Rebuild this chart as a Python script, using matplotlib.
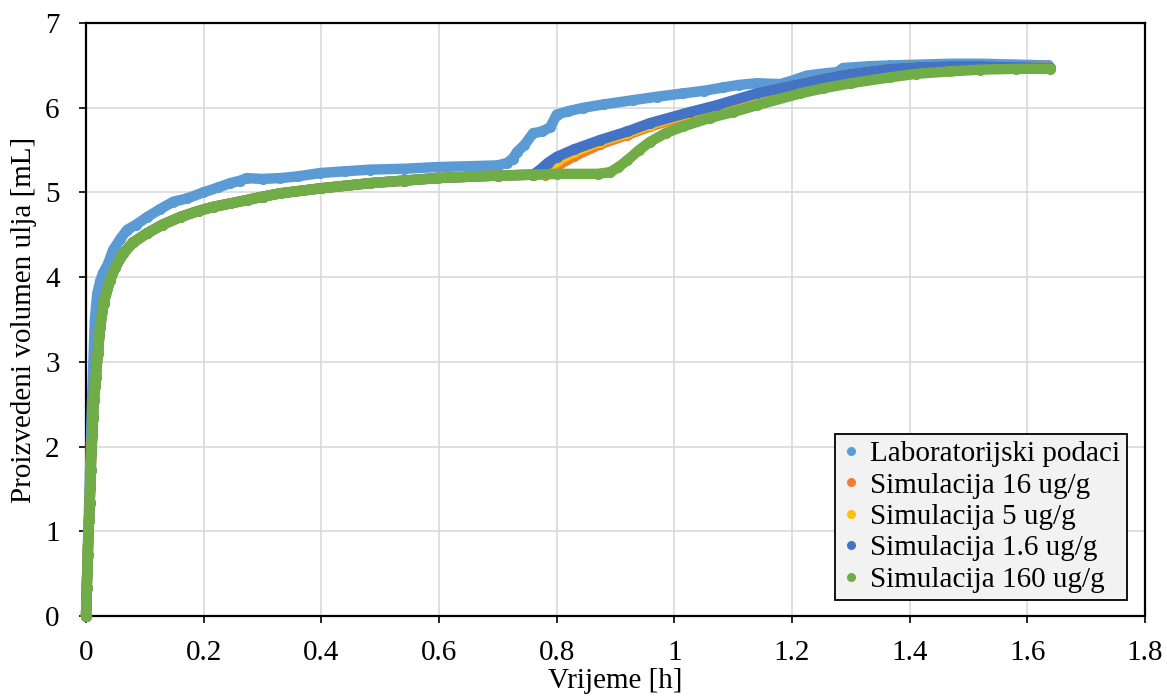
import matplotlib

matplotlib.use("Agg")

import matplotlib.pyplot as plt
from matplotlib.lines import Line2D
from matplotlib.ticker import FuncFormatter, MultipleLocator


# Laboratory measurements (time in h, volume in mL)
lab_time = [0, 0.002, 0.004, 0.006, 0.008, 0.010, 0.012, 0.015, 0.019, 0.024, 0.029, 0.037,
            0.046, 0.058, 0.070, 0.085, 0.104, 0.125, 0.148, 0.172, 0.199, 0.225, 0.245, 0.262,
            0.273, 0.30, 0.33, 0.36, 0.398, 0.44, 0.483, 0.54, 0.597, 0.65, 0.700, 0.716, 0.725,
            0.733, 0.745, 0.760, 0.775, 0.789, 0.80, 0.82, 0.845, 0.88, 0.93, 0.97, 1.015, 1.05,
            1.083, 1.11, 1.14, 1.18, 1.20, 1.225, 1.26, 1.277, 1.287, 1.33, 1.367, 1.42, 1.469,
            1.52, 1.58, 1.635]
lab_volume = [0, 0.5, 1.0, 1.5, 2.0, 2.5, 2.9, 3.5, 3.8, 3.95, 4.05, 4.15,
              4.32, 4.45, 4.56, 4.62, 4.71, 4.80, 4.89, 4.93, 5.00, 5.06, 5.11, 5.14,
              5.17, 5.16, 5.17, 5.19, 5.23, 5.25, 5.27, 5.28, 5.30, 5.31, 5.32, 5.35, 5.40,
              5.48, 5.56, 5.70, 5.72, 5.77, 5.92, 5.96, 6.00, 6.04, 6.09, 6.13, 6.17, 6.20,
              6.24, 6.27, 6.29, 6.28, 6.32, 6.38, 6.41, 6.42, 6.47, 6.49, 6.50, 6.51, 6.52,
              6.52, 6.51, 6.50]

# Simulations share the same early part (before breakthrough)
sim_early_time = [0, 0.0005, 0.0012, 0.0022, 0.003, 0.0039, 0.0051, 0.0063, 0.0071, 0.008,
                  0.009, 0.0107, 0.0119, 0.013, 0.0153, 0.0165, 0.020, 0.024, 0.030, 0.041,
                  0.050, 0.063, 0.080, 0.104, 0.13, 0.16, 0.19, 0.216, 0.245, 0.273, 0.30,
                  0.33, 0.40, 0.483, 0.54, 0.597, 0.70, 0.76]
sim_early_volume = [0, 0.13, 0.33, 0.52, 0.72, 0.92, 1.13, 1.33, 1.53, 1.72,
                    1.92, 2.14, 2.34, 2.55, 2.71, 2.82, 3.10, 3.41, 3.70, 3.97,
                    4.12, 4.28, 4.41, 4.52, 4.62, 4.71, 4.78, 4.83, 4.87, 4.91, 4.95,
                    4.99, 5.05, 5.11, 5.14, 5.17, 5.20, 5.21]

sim16_time = [0.78, 0.79, 0.80, 0.83, 0.874, 0.92, 0.959, 1.027, 1.072, 1.14, 1.214, 1.253,
              1.30, 1.367, 1.42, 1.469, 1.52, 1.58, 1.639]
sim16_volume = [5.21, 5.25, 5.31, 5.43, 5.57, 5.68, 5.78, 5.92, 6.01, 6.15, 6.27, 6.33,
                6.39, 6.45, 6.47, 6.48, 6.48, 6.48, 6.47]

sim5_time = [0.775, 0.785, 0.80, 0.83, 0.874, 0.92, 0.959, 1.027, 1.072, 1.14, 1.214, 1.253,
             1.30, 1.367, 1.42, 1.469, 1.52, 1.58, 1.639]
sim5_volume = [5.22, 5.28, 5.37, 5.48, 5.60, 5.70, 5.80, 5.94, 6.02, 6.16, 6.28, 6.34,
               6.40, 6.46, 6.48, 6.49, 6.49, 6.48, 6.47]

sim1_6_time = [0.772, 0.785, 0.80, 0.83, 0.874, 0.92, 0.959, 1.027, 1.072, 1.14, 1.214, 1.253,
               1.30, 1.367, 1.42, 1.469, 1.52, 1.58, 1.639]
sim1_6_volume = [5.27, 5.35, 5.42, 5.51, 5.62, 5.72, 5.82, 5.95, 6.03, 6.17, 6.28, 6.34,
                 6.40, 6.46, 6.48, 6.49, 6.49, 6.48, 6.47]

sim160_time = [0.80, 0.87, 0.891, 0.905, 0.92, 0.94, 0.959, 0.985, 1.015, 1.06, 1.10, 1.14,
               1.214, 1.253, 1.30, 1.367, 1.41, 1.469, 1.52, 1.58, 1.639]
sim160_volume = [5.22, 5.22, 5.24, 5.30, 5.38, 5.50, 5.60, 5.70, 5.78, 5.88, 5.95, 6.03,
                 6.17, 6.23, 6.29, 6.36, 6.40, 6.43, 6.45, 6.46, 6.46]

labels = ["Laboratorijski podaci", "Simulacija 16 ug/g", "Simulacija 5 ug/g",
          "Simulacija 1.6 ug/g", "Simulacija 160 ug/g"]
colors = ["#5B9BD5", "#ED7D31", "#FFC000", "#4472C4", "#70AD47"]

plt.rcParams["font.family"] = ["Liberation Serif", "DejaVu Serif"]
plt.rcParams["font.size"] = 21

fig = plt.figure(figsize=(11.67, 6.99), dpi=100)
ax = fig.add_axes([0.0737, 0.1187, 0.9075, 0.8483])

series = [
    (lab_time, lab_volume),
    (sim_early_time + sim16_time, sim_early_volume + sim16_volume),
    (sim_early_time + sim5_time, sim_early_volume + sim5_volume),
    (sim_early_time + sim1_6_time, sim_early_volume + sim1_6_volume),
    (sim_early_time + sim160_time, sim_early_volume + sim160_volume),
]

for i, (t, v) in enumerate(series):
    ax.plot(t, v, color=colors[i], linewidth=7.5, marker="o", markersize=8,
            markeredgewidth=0, solid_capstyle="round", solid_joinstyle="round",
            zorder=3 + i, clip_on=False)

ax.set_xlim(0, 1.8)
ax.set_ylim(0, 7)
ax.xaxis.set_major_locator(MultipleLocator(0.2))
ax.yaxis.set_major_locator(MultipleLocator(1))
ax.xaxis.set_major_formatter(FuncFormatter(lambda val, pos: f"{val:g}"))
ax.yaxis.set_major_formatter(FuncFormatter(lambda val, pos: f"{val:g}"))

ax.grid(True, color="#d9d9d9", linewidth=1.2)
ax.set_axisbelow(True)
for spine in ax.spines.values():
    spine.set_color("black")
    spine.set_linewidth(1.6)

ax.tick_params(axis="both", direction="out", length=5, width=1.2, color="black")
ax.tick_params(axis="x", pad=12)
ax.tick_params(axis="y", pad=14)

ax.set_xlabel("Vrijeme [h]", labelpad=2)
ax.set_ylabel("Proizvedeni volumen ulja [mL]", labelpad=6)

handles = [Line2D([], [], linestyle="none", marker="o", markersize=6.5,
                  markeredgewidth=0, color=c) for c in colors]
leg = ax.legend(handles, labels, loc="lower right", bbox_to_anchor=(0.983, 0.027),
                borderaxespad=0, fancybox=False, framealpha=1, facecolor="#f2f2f2",
                edgecolor="black", handlelength=0.6, handletextpad=0.35,
                labelspacing=0.17, borderpad=0.25, fontsize=21)
leg.get_frame().set_linewidth(1.3)
leg.set_zorder(20)

fig.savefig("out.png", dpi=100)
